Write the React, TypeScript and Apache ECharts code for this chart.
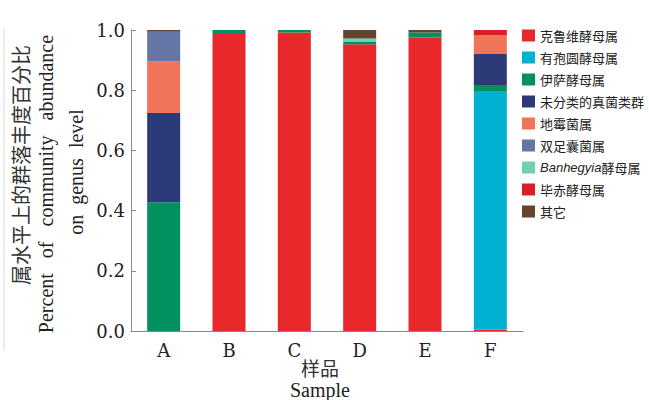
import React, { useEffect, useRef } from "react";
import * as echarts from "echarts";

const categories = ["A", "B", "C", "D", "E", "F"];
const seriesNames = [
  "克鲁维酵母属",
  "有孢圆酵母属",
  "伊萨酵母属",
  "未分类的真菌类群",
  "地霉菌属",
  "双足囊菌属",
  "Banhegyia酵母属",
  "毕赤酵母属",
  "其它",
];
const kluyveromyces = [0, 0.987, 0.992, 0.953, 0.975, 0.004];
const torulaspora = [0, 0, 0, 0, 0, 0.791];
const issatchenkia = [0.428, 0.013, 0.008, 0.007, 0.017, 0.022];
const unclassified = [0.296, 0, 0, 0, 0, 0.105];
const geotrichum = [0.171, 0, 0, 0, 0, 0.061];
const dipodascus = [0.099, 0, 0, 0, 0, 0];
const banhegyia = [0, 0, 0, 0.012, 0, 0];
const pichia = [0, 0, 0, 0, 0, 0.017];
const others = [0.006, 0, 0, 0.028, 0.008, 0];
const seriesValues = [
  kluyveromyces,
  torulaspora,
  issatchenkia,
  unclassified,
  geotrichum,
  dipodascus,
  banhegyia,
  pichia,
  others,
];
const colors = [
  "#e8282a",
  "#00b2d2",
  "#00915f",
  "#2d3a78",
  "#f07458",
  "#6475a6",
  "#72d0b2",
  "#dc1f27",
  "#634530",
];
const yTicks = [0, 0.2, 0.4, 0.6, 0.8, 1.0];

const serif = "'Liberation Serif', 'DejaVu Serif', serif";
const tickSerif = "'DejaVu Serif', 'Liberation Serif', serif";
const cjk = "'Noto Sans CJK SC', sans-serif";

export default function App() {
  const ref = useRef<HTMLDivElement>(null);
  useEffect(() => {
    if (!ref.current) return;
    const chart = echarts.init(ref.current, undefined, { renderer: "svg" });
    chart.setOption({
      animation: false,
      backgroundColor: "#ffffff",
      grid: { left: 131, right: 126, top: 30, bottom: 69 },
      legend: {
        orient: "vertical",
        left: 517,
        top: 24,
        itemWidth: 13,
        itemHeight: 12,
        itemGap: 9,
        icon: "rect",
        data: seriesNames,
        formatter: (name: string) =>
          name === "Banhegyia酵母属" ? "{i|Banhegyia}酵母属" : name,
        textStyle: {
          fontFamily: cjk,
          fontSize: 13,
          color: "#222",
          rich: {
            i: { fontStyle: "italic", fontFamily: "'Liberation Sans', sans-serif", fontSize: 13, color: "#222" },
          },
        },
      },
      xAxis: {
        type: "category",
        data: categories,
        axisLine: { lineStyle: { color: "#888", width: 1 } },
        axisTick: { inside: true, alignWithLabel: true, length: 4, lineStyle: { color: "#555" } },
        axisLabel: { fontFamily: tickSerif, fontSize: 18, color: "#222", margin: 10 },
      },
      yAxis: {
        type: "value",
        min: 0,
        max: 1,
        interval: 0.2,
        splitLine: { show: false },
        axisLine: { show: true, lineStyle: { color: "#888", width: 1 } },
        axisTick: { show: true, inside: true, length: 5, lineStyle: { color: "#888" } },
        axisLabel: {
          fontFamily: tickSerif,
          fontSize: 18,
          color: "#222",
          margin: 6,
          formatter: (v: number) => (yTicks.includes(v) ? v.toFixed(1) : ""),
        },
      },
      series: seriesNames.map((name, i) => ({
        name,
        type: "bar",
        stack: "total",
        barWidth: 33,
        data: seriesValues[i],
        itemStyle: { color: colors[i] },
      })),
      graphic: [
        {
          type: "line",
          shape: { x1: 4, y1: 28, x2: 4, y2: 350 },
          style: { stroke: "#d8d8d8", lineWidth: 1 },
        },
        {
          type: "text",
          x: 20,
          y: 165,
          rotation: Math.PI / 2,
          style: {
            text: "属水平上的群落丰度百分比",
            fontFamily: cjk,
            fontSize: 20,
            fill: "#333",
            align: "center",
            verticalAlign: "middle",
          },
        },
        {
          type: "text",
          x: 46,
          y: 184,
          rotation: Math.PI / 2,
          style: {
            text: "Percent   of   community   abundance",
            fontFamily: serif,
            fontSize: 20,
            fill: "#222",
            align: "center",
            verticalAlign: "middle",
          },
        },
        {
          type: "text",
          x: 76,
          y: 172,
          rotation: Math.PI / 2,
          style: {
            text: "on  genus  level",
            fontFamily: serif,
            fontSize: 20,
            fill: "#222",
            align: "center",
            verticalAlign: "middle",
          },
        },
        {
          type: "text",
          x: 320,
          y: 367,
          style: {
            text: "样品",
            fontFamily: cjk,
            fontSize: 19,
            fill: "#333",
            align: "center",
            verticalAlign: "middle",
          },
        },
        {
          type: "text",
          x: 320,
          y: 390,
          style: {
            text: "Sample",
            fontFamily: serif,
            fontSize: 20,
            fill: "#222",
            align: "center",
            verticalAlign: "middle",
          },
        },
      ],
    });
    return () => chart.dispose();
  }, []);
  return (
    <div
      ref={ref}
      style={{ position: "fixed", left: 0, top: 0, width: 649, height: 400 }}
    />
  );
}
